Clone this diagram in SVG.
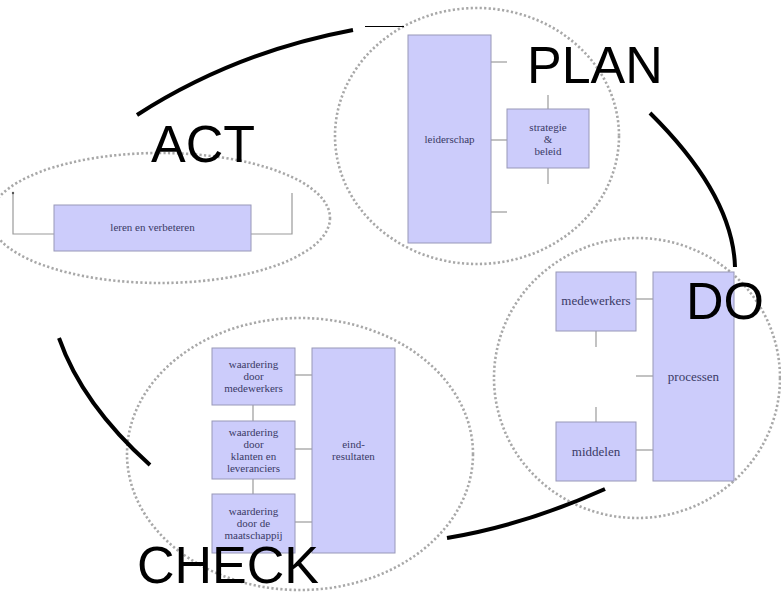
<svg xmlns="http://www.w3.org/2000/svg" width="781" height="592" viewBox="0 0 781 592">
<style>
.zone{fill:none;stroke:#a8a8a8;stroke-width:2.6;stroke-dasharray:2.2 2.3}
.box{fill:#ccccfb;stroke:#9898b8;stroke-width:1}
.t{font-family:"Liberation Serif","DejaVu Serif",serif;font-size:11px;fill:#3a3a66;text-anchor:middle}
.t13{font-size:13px}
.link{stroke:#9a9a9a;stroke-width:1.2;fill:none}
.cycle{stroke:#000;stroke-width:4;fill:none;stroke-linecap:butt}
.big{font-family:"Liberation Sans",Arial,sans-serif;font-size:52px;fill:#000}
</style>
<rect width="781" height="592" fill="#fff"/>

<g id="zones">
<ellipse id="zone-plan" class="zone" cx="477" cy="136" rx="142" ry="128"/>
<ellipse id="zone-act" class="zone" cx="160" cy="218" rx="170" ry="65"/>
<ellipse id="zone-do" class="zone" cx="637" cy="378" rx="143" ry="140"/>
<ellipse id="zone-check" class="zone" cx="300" cy="454" rx="173" ry="136"/>
</g>

<g id="connectors">
<!-- PLAN -->
<line class="link" x1="491" y1="62" x2="507" y2="62"/>
<line class="link" x1="491" y1="140" x2="507" y2="140"/>
<line class="link" x1="491" y1="212" x2="507" y2="212"/>
<line class="link" x1="548" y1="95" x2="548" y2="109"/>
<line class="link" x1="548" y1="168" x2="548" y2="184"/>
<!-- ACT -->
<polyline class="link" points="54,234 13,234 13,193"/>
<circle cx="13" cy="193" r="1.2" fill="#555"/>
<polyline class="link" points="251,234 292,234 292,193"/>
<!-- DO -->
<line class="link" x1="636" y1="299" x2="653" y2="299"/>
<line class="link" x1="636" y1="376" x2="653" y2="376"/>
<line class="link" x1="636" y1="450" x2="653" y2="450"/>
<line class="link" x1="596" y1="331" x2="596" y2="347"/>
<line class="link" x1="596" y1="407" x2="596" y2="422"/>
<!-- CHECK -->
<line class="link" x1="253" y1="405" x2="253" y2="421"/>
<line class="link" x1="253" y1="479" x2="253" y2="494"/>
<line class="link" x1="295" y1="375" x2="312" y2="375"/>
<line class="link" x1="295" y1="449" x2="312" y2="449"/>
<line class="link" x1="295" y1="522" x2="312" y2="522"/>
</g>

<g id="node-leiderschap">
<rect class="box" x="408" y="35" width="83" height="208"/>
<text class="t" x="449.5" y="143">leiderschap</text>
</g>
<g id="node-strategie">
<rect class="box" x="507" y="109" width="82" height="59"/>
<text class="t" x="548" y="131">strategie</text>
<text class="t" x="548" y="143">&amp;</text>
<text class="t" x="548" y="155">beleid</text>
</g>
<g id="node-leren">
<rect class="box" x="54" y="205" width="197" height="46"/>
<text class="t" x="152.5" y="231">leren en verbeteren</text>
</g>
<g id="node-medewerkers">
<rect class="box" x="556" y="272" width="80" height="59"/>
<text class="t t13" x="596" y="305">medewerkers</text>
</g>
<g id="node-middelen">
<rect class="box" x="556" y="422" width="80" height="59"/>
<text class="t t13" x="596" y="456">middelen</text>
</g>
<g id="node-processen">
<rect class="box" x="653" y="272" width="81" height="209"/>
<text class="t t13" x="693.5" y="381">processen</text>
</g>
<g id="node-waardering-medewerkers">
<rect class="box" x="212" y="348" width="83" height="57"/>
<text class="t" x="253.5" y="368">waardering</text>
<text class="t" x="253.5" y="380">door</text>
<text class="t" x="253.5" y="392">medewerkers</text>
</g>
<g id="node-waardering-klanten">
<rect class="box" x="212" y="421" width="83" height="58"/>
<text class="t" x="253.5" y="436">waardering</text>
<text class="t" x="253.5" y="448">door</text>
<text class="t" x="253.5" y="460">klanten en</text>
<text class="t" x="253.5" y="472">leveranciers</text>
</g>
<g id="node-waardering-maatschappij">
<rect class="box" x="212" y="494" width="83" height="59"/>
<text class="t" x="253.5" y="515">waardering</text>
<text class="t" x="253.5" y="527">door de</text>
<text class="t" x="253.5" y="539">maatschappij</text>
</g>
<g id="node-eindresultaten">
<rect class="box" x="312" y="348" width="83" height="205"/>
<text class="t" x="353.5" y="448">eind-</text>
<text class="t" x="353.5" y="460">resultaten</text>
</g>

<g id="cycle">
<path class="cycle" d="M137,115 Q235,52 353,30"/>
<line x1="365" y1="26.5" x2="404" y2="26.5" stroke="#000" stroke-width="1"/>
<path class="cycle" d="M650,113 Q733,195 735,267"/>
<path class="cycle" d="M605,489 Q525,525 447,538"/>
<path class="cycle" d="M150,465 Q82,404 59,338"/>
</g>

<g id="labels">
<text id="label-plan" class="big" x="527" y="83">PLAN</text>
<text id="label-act" class="big" x="151" y="162">ACT</text>
<text id="label-do" class="big" x="686" y="319">DO</text>
<text id="label-check" class="big" x="137" y="583" font-size="51">CHECK</text>
</g>
</svg>
